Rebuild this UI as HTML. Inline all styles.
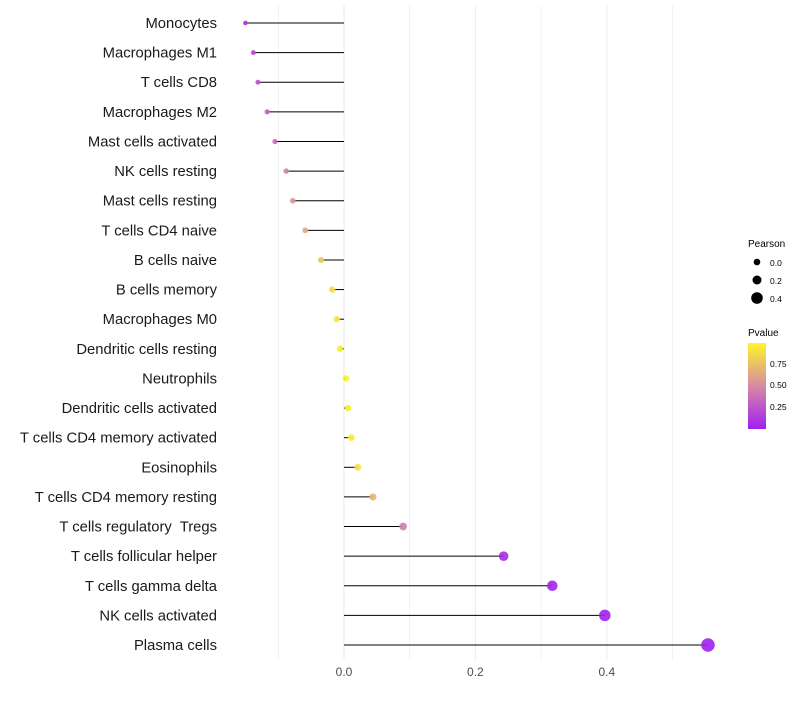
<!DOCTYPE html>
<html><head><meta charset="utf-8"><style>
body{margin:0;background:#fff;font-family:"Liberation Sans",sans-serif}
text{white-space:pre}
</style></head><body>
<svg id="chart" width="800" height="700" xmlns="http://www.w3.org/2000/svg">
<defs><linearGradient id="pg" x1="0" y1="1" x2="0" y2="0">
<stop offset="0" stop-color="#a020f0"/><stop offset="0.5" stop-color="#d88aa4"/><stop offset="1" stop-color="#fdf52a"/></linearGradient></defs>
<g id="grid"></g><g id="marks"></g><g id="labels"></g>
<g font-size="10">
<text x="748" y="247" fill="#000">Pearson</text>
<circle cx="757" cy="262" r="3.3" fill="#000"/><text x="770" y="266" font-size="8.5">0.0</text>
<circle cx="757" cy="280" r="4.5" fill="#000"/><text x="770" y="284" font-size="8.5">0.2</text>
<circle cx="757" cy="298" r="5.8" fill="#000"/><text x="770" y="302" font-size="8.5">0.4</text>
<text x="748" y="336" fill="#000">Pvalue</text>
<rect x="748" y="343" width="18" height="86" fill="url(#pg)"/>
<text x="770" y="367" font-size="8.5">0.75</text>
<text x="770" y="388" font-size="8.5">0.50</text>
<text x="770" y="410" font-size="8.5">0.25</text>
</g>
</svg>
<script>
const cells=["Monocytes","Macrophages M1","T cells CD8","Macrophages M2","Mast cells activated","NK cells resting","Mast cells resting","T cells CD4 naive","B cells naive","B cells memory","Macrophages M0","Dendritic cells resting","Neutrophils","Dendritic cells activated","T cells CD4 memory activated","Eosinophils","T cells CD4 memory resting","T cells regulatory  Tregs","T cells follicular helper","T cells gamma delta","NK cells activated","Plasma cells"];
const pearson=[-0.15,-0.138,-0.131,-0.117,-0.105,-0.088,-0.078,-0.059,-0.035,-0.018,-0.011,-0.006,0.003,0.006,0.011,0.021,0.044,0.09,0.243,0.317,0.397,0.554];
const pvalue=[0.1,0.2,0.22,0.3,0.35,0.45,0.55,0.65,0.78,0.88,0.93,0.96,0.98,0.97,0.95,0.9,0.7,0.45,0.05,0.02,0.01,0.001];
const ticks=[0,0.2,0.4];
const minorTicks=[-0.1,0.1,0.3,0.5];
const NS="http://www.w3.org/2000/svg";
const x=v=>344+v*657, y=i=>23+i*29.62, r=v=>Math.max(1.5,3.3+6.25*v);
function lerp(a,b,t){return a.map((c,k)=>Math.round(c+(b[k]-c)*t));}
function col(p){const s0=[160,32,240],s1=[216,138,164],s2=[253,245,42];
 const c=p<0.5?lerp(s0,s1,p/0.5):lerp(s1,s2,(p-0.5)/0.5);return `rgb(${c})`;}
function mk(tag,at,parent){const e=document.createElementNS(NS,tag);for(const k in at)e.setAttribute(k,at[k]);document.getElementById(parent).appendChild(e);return e;}
minorTicks.concat(ticks).forEach(t=>{const l=mk('line',{x1:x(t),x2:x(t),y1:5,y2:660,stroke:'#ebebeb','stroke-width':ticks.includes(t)?1:0.6},'grid');

});
ticks.forEach(t=>{const e=mk('text',{x:x(t),y:676,'text-anchor':'middle','font-size':12,fill:'#4d4d4d'},'labels');e.textContent=t.toFixed(1);

});
cells.forEach((c,i)=>{
 const t=mk('text',{x:217,y:y(i)+5,'text-anchor':'end','font-size':14.8,fill:'#1a1a1a'},'labels');t.textContent=c;
 
 
 const l=mk('line',{x1:x(0),x2:x(pearson[i]),y1:y(i),y2:y(i),stroke:'#000','stroke-width':1},'marks');
 
 
 const d=mk('circle',{cx:x(pearson[i]),cy:y(i),r:r(pearson[i]),fill:col(pvalue[i]),'fill-opacity':0.9},'marks');
 
 
});
</script>
</body></html>
